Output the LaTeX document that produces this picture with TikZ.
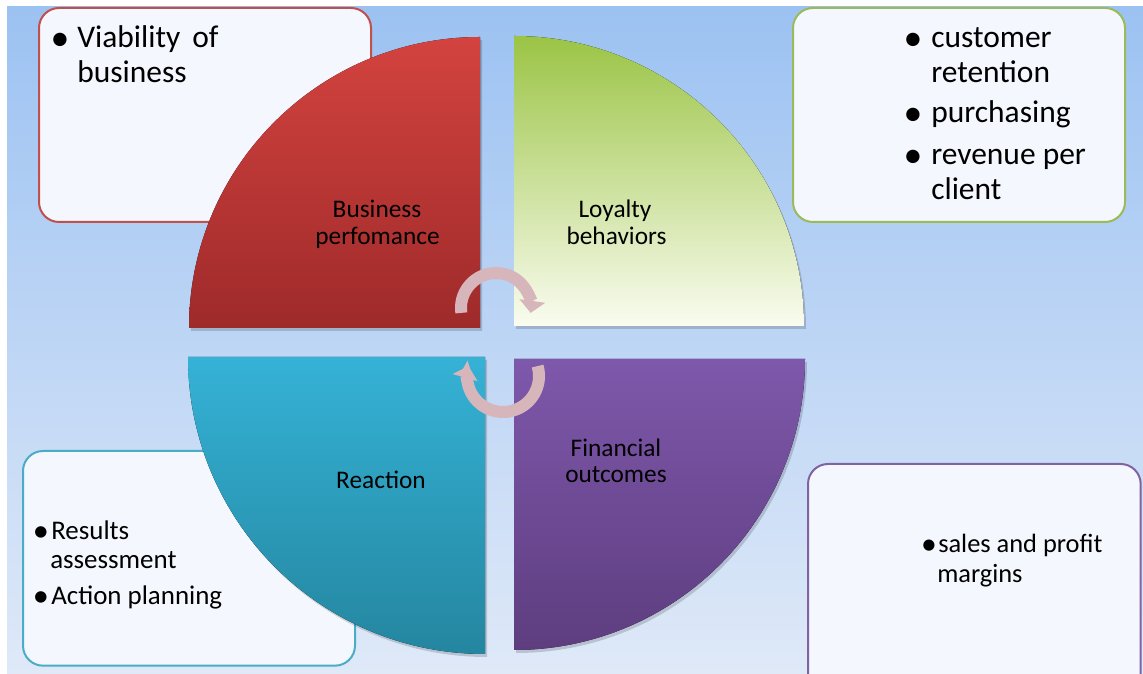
\documentclass[tikz,border=0pt]{standalone}
\usepackage{fontspec}
\setmainfont{Carlito}
\usetikzlibrary{arrows.meta}
\definecolor{bgtop}{HTML}{9CC2F2}
\definecolor{bgbot}{HTML}{DFE9F8}
\definecolor{boxfill}{HTML}{F4F7FD}
\definecolor{redb}{HTML}{C0504D}
\definecolor{greenb}{HTML}{9BBB59}
\definecolor{tealb}{HTML}{4BACC6}
\definecolor{purpb}{HTML}{8064A2}
\definecolor{redtop}{HTML}{D3433F}
\definecolor{redbot}{HTML}{9E2A2A}
\definecolor{greentop}{HTML}{9BC445}
\definecolor{greenbot}{HTML}{FAFCF0}
\definecolor{tealtop}{HTML}{35B2D6}
\definecolor{tealbot}{HTML}{2486A0}
\definecolor{purptop}{HTML}{7E58AB}
\definecolor{purpbot}{HTML}{5E3D7F}
\definecolor{arrowc}{HTML}{D6B6BA}
\newcommand{\bigbul}{\raisebox{-0.07em}{\scalebox{1.2}{•}}}
\begin{document}
\begin{tikzpicture}[x=0.75pt,y=0.75pt,
  box/.style={draw, line width=1.5pt, rounded corners=15pt, fill=boxfill, anchor=north west, inner sep=0pt},
  txt/.style={inner sep=0pt, anchor=base west},
  bul/.style={inner sep=0pt, anchor=base},
  lbl/.style={inner sep=0pt, anchor=base, font=\fontsize{19}{23}\selectfont},
  bigf/.style={font=\fontsize{23.6}{28}\selectfont},
  midf/.style={font=\fontsize{20.2}{24}\selectfont},
  smf/.style={font=\fontsize{19.8}{24}\selectfont},
  shadowq/.style={fill=black, opacity=0.16, shift={(2,-3)}},
  cyc/.style={line width=9pt, draw=arrowc, -{Triangle[width=19pt,length=9pt]}}
]
\useasboundingbox (0,0) rectangle (1143,674);
\fill[white] (0,0) rectangle (1143,674);
\shade[top color=bgtop, bottom color=bgbot] (7,0) rectangle (1143,667);

% boxes
\node[box, draw=redb, minimum width=249pt, minimum height=160.5pt] (boxTL) at (38,667) {};
\node[box, draw=greenb, minimum width=249pt, minimum height=160.5pt] (boxTR) at (792,667) {};
\node[box, draw=tealb, minimum width=249pt, minimum height=161pt] (boxBL) at (22,224) {};
\node[box, draw=purpb, minimum width=249.5pt, minimum height=175pt] (boxBR) at (807,211) {};

% quadrant shadows
\fill[shadowq] (480,346) -- (480,637) arc[start angle=90, end angle=180, radius=291] -- cycle;
\fill[shadowq] (514,348) -- (804,348) arc[start angle=0, end angle=90, radius=290] -- cycle;
\fill[shadowq] (485,317) -- (188,317) arc[start angle=180, end angle=270, radius=297] -- cycle;
\fill[shadowq] (514,315) -- (514,24) arc[start angle=270, end angle=360, radius=291] -- cycle;

% quadrants
\fill[top color=redtop, bottom color=redbot] (480,346) -- (480,637) arc[start angle=90, end angle=180, radius=291] -- cycle;
\fill[top color=greentop, bottom color=greenbot] (514,348) -- (804,348) arc[start angle=0, end angle=90, radius=290] -- cycle;
\fill[top color=tealtop, bottom color=tealbot] (485,317) -- (188,317) arc[start angle=180, end angle=270, radius=297] -- cycle;
\fill[top color=purptop, bottom color=purpbot] (514,315) -- (514,24) arc[start angle=270, end angle=360, radius=291] -- cycle;

% quadrant labels
\node[lbl] (bp1) at (377,456) {Business};
\node[lbl] (bp2) at (377.5,429) {perfomance};
\node[lbl] (lb1) at (615,456) {Loyalty};
\node[lbl] (lb2) at (616.5,429) {behaviors};
\node[lbl] (re1) at (381,185) {Reaction};
\node[lbl] (fo1) at (616,217) {Financial};
\node[lbl] (fo2) at (616,191) {outcomes};

% cycle arrows
\coordinate (ca) at (496,366);
\coordinate (cb) at (503,298);
\draw[cyc] (ca) ++(188:35) arc[start angle=188, end angle=-8, radius=35];
\draw[cyc] (cb) ++(16:36) arc[start angle=16, end angle=-196, radius=36];

% top-left box text
\node[bul, bigf] (tlb1) at (60,626) {\bigbul};
\node[txt, bigf] (tl1) at (77,626) {Viability\hspace{9pt}of};
\node[txt, bigf] (tl2) at (77,591) {business};

% top-right box text
\node[bul, bigf] (trb1) at (913,626) {\bigbul};
\node[txt, bigf] (tr1) at (931,626) {customer};
\node[txt, bigf] (tr2) at (931,591) {retention};
\node[bul, bigf] (trb2) at (913,551) {\bigbul};
\node[txt, bigf] (tr3) at (931,551) {purchasing};
\node[bul, bigf] (trb3) at (913,509) {\bigbul};
\node[txt, bigf] (tr4) at (931,509) {revenue per};
\node[txt, bigf] (tr5) at (931,474) {client};

% bottom-left box text
\node[bul, midf] (blb1) at (41,134) {\bigbul};
\node[txt, midf] (bl1) at (51,134) {Results};
\node[txt, midf] (bl2) at (50,105) {assessment};
\node[bul, midf] (blb2) at (41,69) {\bigbul};
\node[txt, midf] (bl3) at (51,69) {Action planning};

% bottom-right box text
\node[bul, smf] (brb1) at (929,121) {\bigbul};
\node[txt, smf] (br1) at (938,121) {sales and profit};
\node[txt, smf] (br2) at (937,91) {margins};
\end{tikzpicture}
\end{document}
